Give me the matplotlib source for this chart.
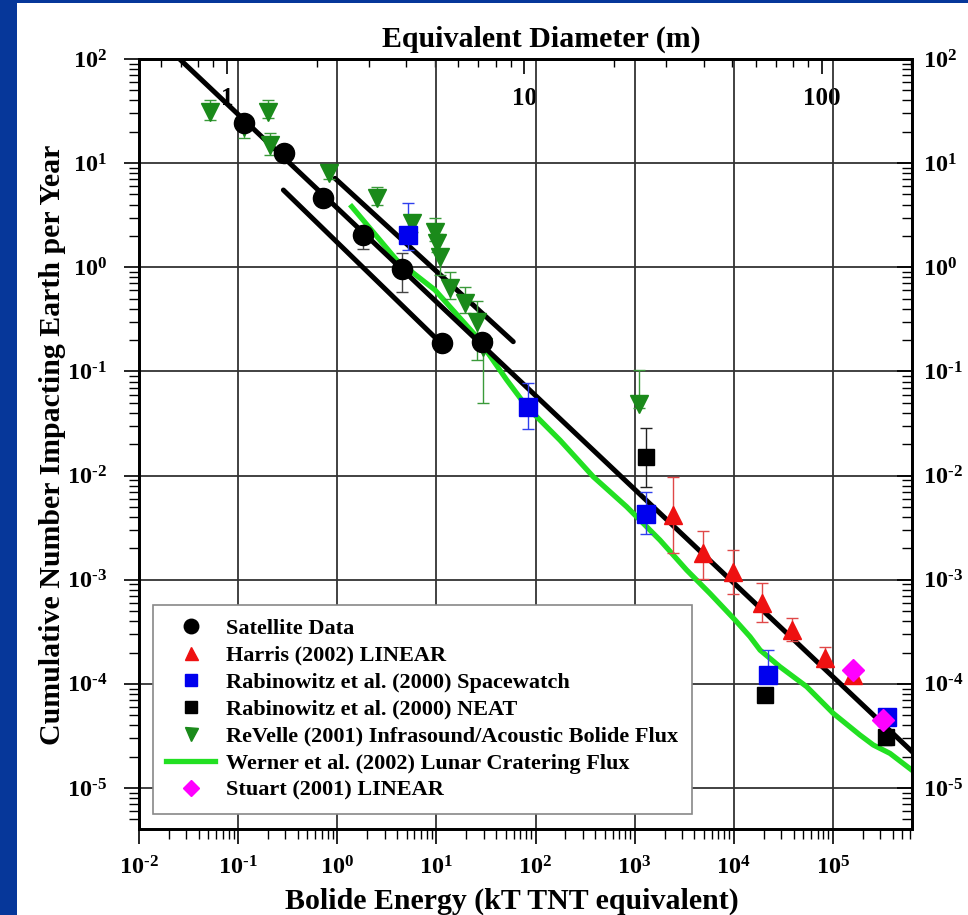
import numpy as np
import matplotlib.pyplot as plt
from matplotlib.ticker import FuncFormatter, NullFormatter, LogLocator
from matplotlib.patches import Rectangle

# bolide flux data (energy in kT TNT, cumulative number per year)
sat_E = [0.115, 0.29, 0.72, 1.80, 4.47, 11.3, 28.6]
sat_N = [24.2, 12.4, 4.6, 2.04, 0.957, 0.189, 0.193]
sat_lo = [24.2, 12.4, 4.6, 1.5, 0.58, 0.189, 0.193]
sat_hi = [24.2, 12.4, 4.6, 2.04, 1.37, 0.189, 0.193]

harris_E = [2450, 4920, 9890, 19100, 38300, 83000, 160000]
harris_N = [4.18e-3, 1.79e-3, 1.19e-3, 6.0e-4, 3.29e-4, 1.76e-4, 1.22e-4]
harris_lo = [1.79e-3, 1.02e-3, 7.3e-4, 3.95e-4, 2.6e-4, 1.45e-4, 1.05e-4]
harris_hi = [9.6e-3, 2.96e-3, 1.93e-3, 9.2e-4, 4.26e-4, 2.25e-4, 1.5e-4]

sw_E = [5.2, 84.5, 1300, 21900, 3.48e5]
sw_N = [2.04, 0.0458, 4.28e-3, 1.22e-4, 4.8e-5]
sw_lo = [1.47, 0.028, 2.75e-3, 1.22e-4, 4.0e-5]
sw_hi = [4.1, 0.077, 7.0e-3, 2.1e-4, 5.6e-5]

neat_E = [1300, 20600, 3.4e5]
neat_N = [0.015, 7.8e-5, 3.1e-5]
neat_lo = [7.8e-3, 7.8e-5, 2.6e-5]
neat_hi = [0.0284, 7.8e-5, 3.1e-5]

rev_E = [0.052, 0.115, 0.201, 0.209, 0.831, 2.50, 5.64, 9.68, 10.1, 10.9, 13.7, 19.4, 25.5, 29.7, 1104]
rev_N = [30.8, 22.0, 31.2, 14.9, 8.0, 4.6, 2.64, 2.20, 1.70, 1.26, 0.63, 0.45, 0.30, 0.17, 0.049]
rev_lo = [26.0, 17.5, 27.0, 12.0, 7.0, 4.0, 2.2, 1.8, 1.4, 0.84, 0.5, 0.36, 0.13, 0.05, 0.045]
rev_hi = [40.0, 26.0, 40.0, 19.5, 9.6, 5.9, 3.2, 3.0, 2.1, 1.5, 0.91, 0.65, 0.47, 0.17, 0.103]

werner_E = [1.40, 3.97, 9.68, 25.5, 51.2, 81.5, 177, 382, 830, 1800, 3340, 5730,
            10300, 14550, 18400, 29200, 54300, 1.007e5, 1.87e5, 2.55e5, 3.76e5, 6.22e5]
werner_N = [3.82, 1.175, 0.605, 0.215, 0.0828, 0.0458, 0.0218, 9.75e-3, 5.02e-3,
            2.40e-3, 1.24e-3, 7.40e-4, 4.10e-4, 2.84e-4, 2.11e-4, 1.46e-4, 9.4e-5, 5.21e-5,
            3.23e-5, 2.59e-5, 2.15e-5, 1.49e-5]

stuart_E = [1.6e5, 3.17e5]
stuart_N = [1.36e-4, 4.5e-5]

# power law fit N = 3.7 E^-0.9 and its bounds
fit_E = [0.0249, 6.27e5]
fit_N = [102.7, 2.24e-5]
upper_E = [0.948, 59.6]
upper_N = [7.15, 0.193]
lower_E = [0.286, 10.9]
lower_N = [5.52, 0.19]

# E = k * D^3 with D in metres
k_diam = 0.0773

plt.rcParams['font.family'] = 'Liberation Serif'
plt.rcParams['font.weight'] = 'bold'
plt.rcParams['mathtext.fontset'] = 'custom'
plt.rcParams['mathtext.rm'] = 'Liberation Serif:bold'
plt.rcParams['mathtext.it'] = 'Liberation Serif:bold:italic'
plt.rcParams['mathtext.bf'] = 'Liberation Serif:bold'

fig = plt.figure(figsize=(9.68, 9.15), dpi=100)
fig.patch.set_facecolor('#06379a')
fig.add_artist(Rectangle((17/968, 0), 1, 1 - 3/915, transform=fig.transFigure,
                         facecolor='white', edgecolor='none', zorder=-1))
ax = fig.add_axes([139/968, 1 - 829/915, (912 - 139)/968, (829 - 59)/915])
ax.set_xscale('log')
ax.set_yscale('log')
ax.set_xlim(0.01, 6.27e5)
ax.set_ylim(4.04e-6, 100)


def bars(E, N, lo, hi, color):
    N = np.array(N)
    err = [N - np.array(lo), np.array(hi) - N]
    ax.errorbar(E, N, yerr=err, fmt='none', ecolor=color, elinewidth=1.0,
                capsize=4, capthick=1.0, zorder=3)


h_wer, = ax.plot(werner_E, werner_N, color='#22e022', lw=3.8, zorder=2,
                 label='Werner et al. (2002) Lunar Cratering Flux')
ax.plot(fit_E, fit_N, color='black', lw=3.6, zorder=3)
ax.plot(upper_E, upper_N, color='black', lw=3.6, zorder=3, solid_capstyle='round')
ax.plot(lower_E, lower_N, color='black', lw=3.6, zorder=3, solid_capstyle='round')

bars(rev_E, rev_N, rev_lo, rev_hi, '#3a9a3a')
bars(sat_E, sat_N, sat_lo, sat_hi, '#444444')
bars(harris_E, harris_N, harris_lo, harris_hi, '#e04848')
bars(sw_E, sw_N, sw_lo, sw_hi, '#3040ee')
bars(neat_E, neat_N, neat_lo, neat_hi, '#222222')

h_rev, = ax.plot(rev_E, rev_N, 'v', color='#1a8a1a', ms=13, zorder=4,
                 label='ReVelle (2001) Infrasound/Acoustic Bolide Flux')
h_sat, = ax.plot(sat_E, sat_N, 'o', color='black', ms=14.5, zorder=5, label='Satellite Data')
h_har, = ax.plot(harris_E, harris_N, '^', color='#ee1111', ms=13, zorder=5,
                 label='Harris (2002) LINEAR')
h_neat, = ax.plot(neat_E, neat_N, 's', color='black', ms=12, zorder=5,
                  label='Rabinowitz et al. (2000) NEAT')
h_sw, = ax.plot(sw_E, sw_N, 's', color='#0000ee', ms=12.5, zorder=5,
                label='Rabinowitz et al. (2000) Spacewatch')
h_st, = ax.plot(stuart_E, stuart_N, 'D', color='#ff00ff', ms=11.5, zorder=6,
                label='Stuart (2001) LINEAR')

# grid and ticks
ax.grid(True, which='major', color='#333333', lw=1.3)
ax.set_axisbelow(True)
for s in ax.spines.values():
    s.set_linewidth(2)


def pow_label(v, p):
    n = int(round(np.log10(v)))
    if n < 0:
        return r'$\mathrm{10^{\text{-}%d}}$' % (-n)
    return r'$\mathrm{10^{%d}}$' % n


pow_fmt = FuncFormatter(pow_label)
ax.xaxis.set_major_locator(LogLocator(base=10, numticks=20))
ax.xaxis.set_minor_locator(LogLocator(base=10, subs=np.arange(2, 10), numticks=20))
ax.yaxis.set_major_locator(LogLocator(base=10, numticks=20))
ax.yaxis.set_minor_locator(LogLocator(base=10, subs=np.arange(2, 10), numticks=20))
ax.xaxis.set_major_formatter(pow_fmt)
ax.yaxis.set_major_formatter(pow_fmt)
ax.xaxis.set_minor_formatter(NullFormatter())
ax.yaxis.set_minor_formatter(NullFormatter())
ax.tick_params(axis='both', which='major', direction='out', length=11, width=1.2,
               labelsize=17.5, top=False)
ax.tick_params(axis='x', which='major', pad=9)
ax.tick_params(axis='y', which='major', pad=12)
ax.tick_params(axis='both', which='minor', direction='out', length=7, width=1, top=False)

# right axis repeats the y scale with inward ticks
ax_r = ax.twinx()
ax_r.set_yscale('log')
ax_r.set_ylim(ax.get_ylim())
ax_r.yaxis.set_major_locator(LogLocator(base=10, numticks=20))
ax_r.yaxis.set_minor_locator(LogLocator(base=10, subs=np.arange(2, 10), numticks=20))
ax_r.yaxis.set_major_formatter(pow_fmt)
ax_r.yaxis.set_minor_formatter(NullFormatter())
ax_r.tick_params(axis='y', which='major', direction='in', length=11, width=1.2,
                 labelsize=17.5, pad=8)
ax_r.tick_params(axis='y', which='minor', direction='in', length=7, width=1)
for s in ax_r.spines.values():
    s.set_linewidth(2)

# diameter scale along the top
top = ax.secondary_xaxis('top', functions=(lambda e: np.cbrt(np.maximum(e, 1e-30) / k_diam),
                                           lambda d: k_diam * d**3))
top.xaxis.set_major_formatter(FuncFormatter(lambda v, p: '%g' % v))
top.xaxis.set_minor_formatter(NullFormatter())
top.tick_params(which='major', direction='in', length=11, width=1.2, labelsize=18, pad=-37)
top.tick_params(which='minor', direction='in', length=6, width=1)
top.spines['top'].set_linewidth(2)
top.set_xlabel('Equivalent Diameter (m)', fontsize=21.5, fontweight='bold')
top.xaxis.set_label_coords((541 - 139) / 773, (829 - 47) / 770, transform=ax.transAxes)

ax.set_xlabel('Bolide Energy (kT TNT equivalent)', fontsize=21.5, fontweight='bold')
ax.xaxis.set_label_coords((512 - 139) / 773, (829 - 888) / 770)
ax.set_ylabel('Cumulative Number Impacting Earth per Year', fontsize=21.5, fontweight='bold')
ax.yaxis.set_label_coords((66 - 139) / 773, (829 - 445) / 770)

handles = [h_sat, h_har, h_sw, h_neat, h_rev, h_wer, h_st]
leg = ax.legend(handles=handles, loc='upper left', bbox_to_anchor=(153/968, 1 - 605/915),
                bbox_transform=fig.transFigure, prop={'family': 'Liberation Serif',
                                                      'weight': 'bold', 'size': 16},
                markerscale=0.72, fancybox=False, framealpha=1, edgecolor='#888888',
                handlelength=2.2, handletextpad=0.5, labelspacing=0.29, borderpad=0.6,
                borderaxespad=0)
leg.get_frame().set_linewidth(1.2)
leg.set_zorder(10)

fig.savefig('out.png', dpi=100)
